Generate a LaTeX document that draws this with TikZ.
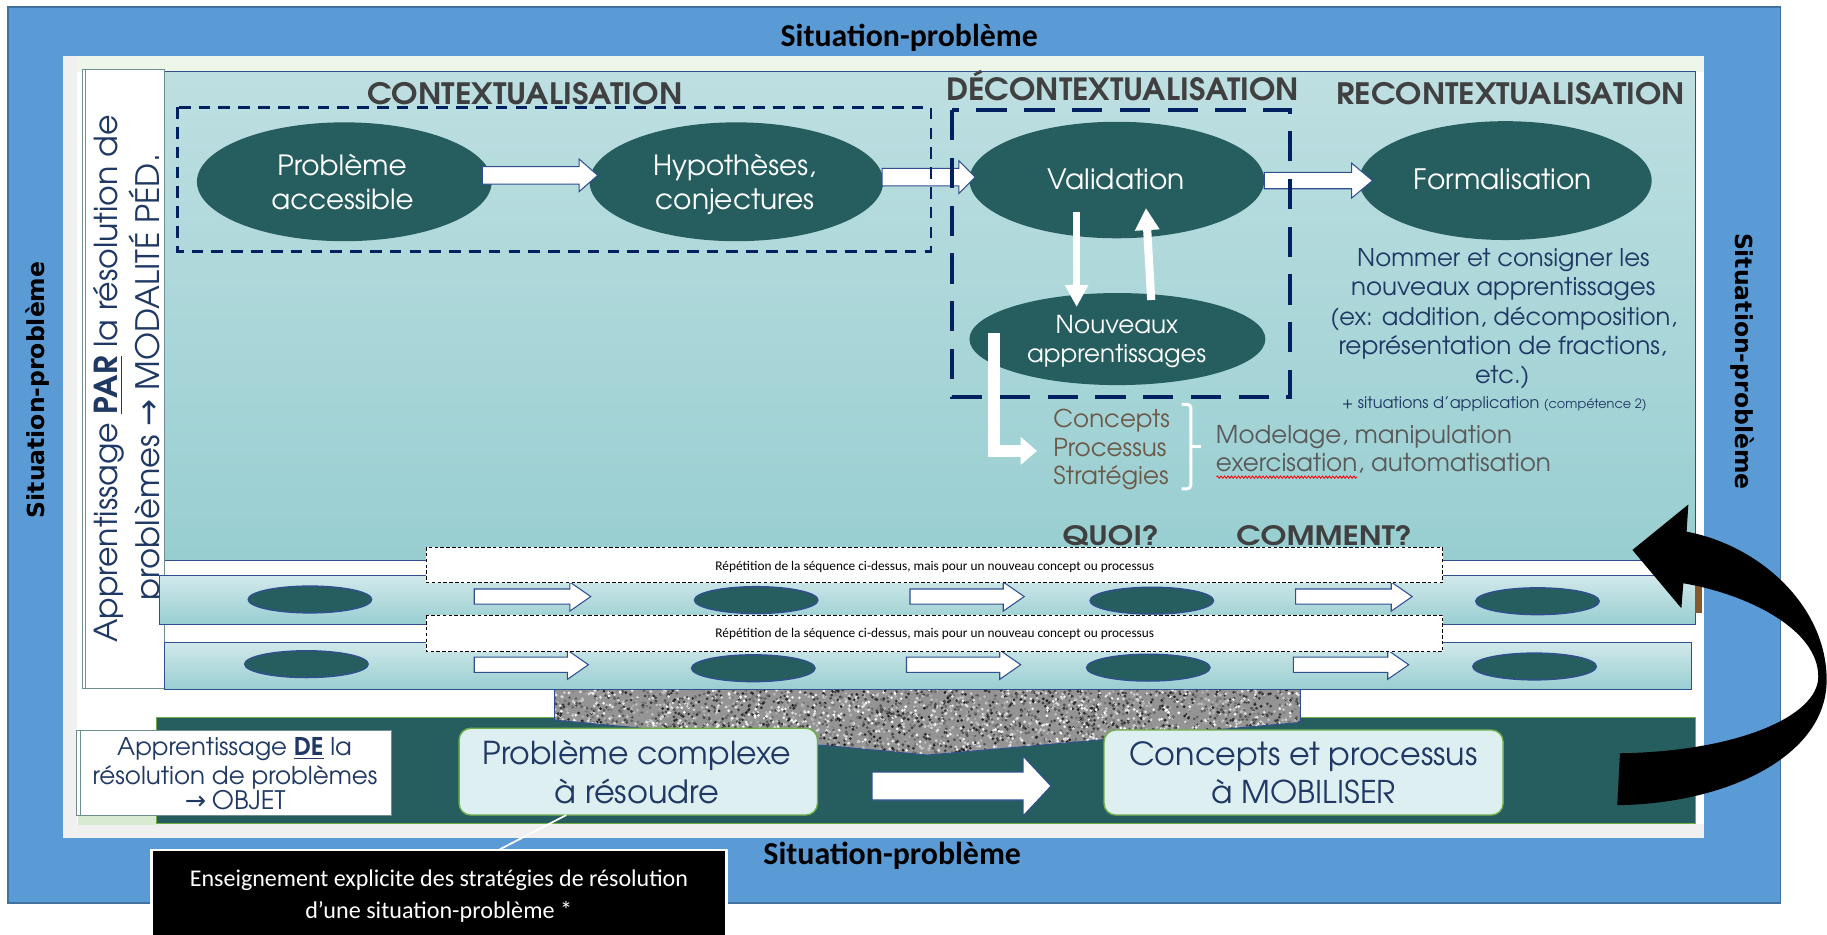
\documentclass[tikz,border=0pt]{standalone}
\usepackage{fontspec}
\usepackage{graphicx}
\setmainfont{Carlito}
\newfontfamily\cg{texgyreadventor}[Extension=.otf,UprightFont=*-regular,BoldFont=*-bold,ItalicFont=*-italic,BoldItalicFont=*-bolditalic]
\newfontfamily\dvs{DejaVu Sans}
\usetikzlibrary{arrows.meta,decorations.pathmorphing,shapes.geometric}
\definecolor{frameblue}{HTML}{5B9BD5}
\definecolor{frameedge}{HTML}{41719C}
\definecolor{tealdk}{HTML}{265E60}
\definecolor{panelTop}{HTML}{BEDFE1}
\definecolor{panelBot}{HTML}{98CED1}
\definecolor{navyln}{HTML}{2F4F8F}
\definecolor{navydash}{HTML}{002060}
\definecolor{navytxt}{HTML}{1F3864}
\definecolor{headgray}{HTML}{404040}
\definecolor{brownt}{HTML}{6B5A48}
\definecolor{graytxt}{HTML}{595959}
\definecolor{boxfill}{HTML}{DDEFF1}
\definecolor{boxedge}{HTML}{70AD47}
\definecolor{lightgreen}{HTML}{EEF6EA}
\definecolor{lightgray}{HTML}{F0F0F0}
\definecolor{labeledge}{HTML}{6F8F8F}
\definecolor{paleleaf}{HTML}{D9EAD3}
\newcommand\fw[2]{\resizebox{#1pt}{!}{#2}}
\newcommand\fwh[3]{\resizebox{#1pt}{#2pt}{#3}}
\newcommand\barrow[7][]{\filldraw[blockarr,#1] (#2,#4-#5) -- (#3-#7,#4-#5) -- (#3-#7,#4-#6) -- (#3,#4) -- (#3-#7,#4+#6) -- (#3-#7,#4+#5) -- (#2,#4+#5) -- cycle;}
\begin{document}
\begin{tikzpicture}[x=1pt,y=-1pt,
  txt/.style={inner sep=0pt,outer sep=0pt},
  wtxt/.style={txt,text=white},
  ntxt/.style={txt,text=navytxt},
  htxt/.style={txt,text=headgray},
  bigell/.style={ellipse,fill=tealdk,draw=none,inner sep=0pt},
  rowell/.style={ellipse,fill=tealdk,draw=navyln,line width=1.2pt,minimum width=106pt,minimum height=23pt,inner sep=0pt},
  blockarr/.style={fill=white,draw=navyln,line width=0.9pt,line join=miter},
  repbox/.style={fill=white,draw=black,line width=0.8pt,dash pattern=on 3pt off 2pt},
  rowband/.style={top color=panelTop!70!white,bottom color=panelBot},
  greenbox/.style={fill=boxfill,draw=boxedge,line width=1.2pt,rounded corners=10pt},
  whitearr/.style={draw=white,line join=miter}
]
\useasboundingbox (0,0) rectangle (1568,802);
\clip (0,0) rectangle (1568,802);
\fill[white] (0,0) rectangle (1568,802);
% blue frame
\filldraw[fill=frameblue,draw=frameedge,line width=1.5pt] (7,6) rectangle (1528,775);
% inner area
\fill[white] (54,48) rectangle (1462,719);
\fill[lightgreen] (66,48) rectangle (1462,61.5);
\fill[lightgray] (54,48) rectangle (66,719);
\fill[lightgray] (54,707) rectangle (1462,719);
% main panel
\shade[top color=panelTop,bottom color=panelBot] (141,61.5) rectangle (1455,481);
\draw[navyln,line width=0.8pt] (141,61.5) rectangle (1455,481);
% left vertical label box
\filldraw[fill=white,draw=labeledge,line width=0.8pt] (70.5,60) rectangle (141,591);
\draw[labeledge,line width=0.6pt] (73.5,60) -- (73.5,591);
\node[ntxt,rotate=90] (lab1) at (93,325.3) {\fw{453}{\cg Apprentissage \underline{\textbf{PAR}} la résolution de}};
\node[ntxt,rotate=90] (lab2) at (126,323.7) {\fw{383}{\cg problèmes {\dvs →} MODALITÉ PÉD.}};
% row bands
\shade[rowband] (137,494) rectangle (1455,535.7);
\draw[navyln,line width=0.8pt] (137,494) rectangle (1455,535.7);
\shade[rowband] (141,551) rectangle (1452,592);
\draw[navyln,line width=0.8pt] (141,551) rectangle (1452,592);
% row ellipses
\node[rowell] (r1a) at (266,514.5) {};
\node[rowell] (r1b) at (649,515) {};
\node[rowell] (r1c) at (988.5,515.5) {};
\node[rowell] (r1d) at (1319.5,516) {};
\node[rowell] (r2a) at (263,570) {};
\node[rowell] (r2b) at (646.5,573.5) {};
\node[rowell] (r2c) at (985.5,573) {};
\node[rowell] (r2d) at (1317,572) {};
% row arrows
\barrow{407}{507}{512}{6.5}{12.5}{18}
\barrow{781}{879}{512}{6.5}{12.5}{18}
\barrow{1112}{1212}{512}{6.5}{12.5}{18}
\barrow{407}{505}{570.5}{6.5}{12.5}{18}
\barrow{778}{876}{570.5}{6.5}{12.5}{18}
\barrow{1110}{1209}{570.5}{6.5}{12.5}{18}
% repetition boxes
\filldraw[repbox] (366,469.5) rectangle (1238,500);
\node[txt,anchor=base] (rep1) at (802.3,489.5) {\fw{376.5}{Répétition de la séquence ci-dessus, mais pour un nouveau concept ou processus}};
\filldraw[repbox] (366,528) rectangle (1238,559.5);
\node[txt,anchor=base] (rep2) at (802.3,547.5) {\fw{376.5}{Répétition de la séquence ci-dessus, mais pour un nouveau concept ou processus}};
% big ellipses
\node[bigell,minimum width=253pt,minimum height=102pt] (e1) at (295.5,156) {};
\node[bigell,minimum width=252pt,minimum height=102pt] (e2) at (632,156) {};
\node[bigell,minimum width=253pt,minimum height=100pt] (e3) at (958.5,154.5) {};
\node[bigell,minimum width=251pt,minimum height=102pt] (e4) at (1292,155) {};
\node[bigell,minimum width=254pt,minimum height=79pt] (e5) at (959,291) {};
% top block arrows
\barrow{414}{513}{150.5}{7.5}{14}{16}
\barrow{757}{837}{152}{7.5}{14}{14}
\barrow{1085}{1178}{155}{7}{15}{18}
% dashed boxes
\draw[navydash,line width=2.3pt,dash pattern=on 10pt off 7pt] (152.5,92) rectangle (799,216);
\draw[navydash,line width=3.5pt,dash pattern=on 26pt off 15pt] (817,94.5) rectangle (1107,340.5);
% headers
\node[htxt,anchor=base] (h1) at (450.5,90) {\fwh{271}{19}{\cg\bfseries CONTEXTUALISATION}};
\node[htxt,anchor=base] (h2) at (963.5,86) {\fwh{303}{26}{\cg\bfseries DÉCONTEXTUALISATION}};
\node[htxt,anchor=base] (h3) at (1296.5,90) {\fwh{299}{19}{\cg\bfseries RECONTEXTUALISATION}};
% ellipse texts
\node[wtxt,anchor=base] (t1a) at (293.5,151) {\fw{111}{\cg Problème}};
\node[wtxt,anchor=base] (t1b) at (294,179.5) {\fw{122}{\cg accessible}};
\node[wtxt,anchor=base] (t2a) at (630.3,151) {\fw{139.6}{\cg Hypothèses,}};
\node[wtxt,anchor=base] (t2b) at (630.8,179.5) {\fw{136.5}{\cg conjectures}};
\node[wtxt,anchor=base] (t3) at (958,163) {\fw{118}{\cg Validation}};
\node[wtxt,anchor=base] (t4) at (1289.8,163) {\fw{152.7}{\cg Formalisation}};
\node[wtxt,anchor=base] (t5a) at (958.5,286) {\fw{105}{\cg Nouveaux}};
\node[wtxt,anchor=base] (t5b) at (958.3,311.5) {\fw{153.6}{\cg apprentissages}};
% validation <-> nouveaux arrows
\coordinate (dA) at (924,182);
\coordinate (dB) at (924,263.5);
\coordinate (uA) at (988,257.5);
\coordinate (uB) at (983.5,178.5);
\draw[whitearr,line width=6.5pt,-{Triangle[width=19pt,length=19pt]}] (dA) -- (dB);
\draw[whitearr,line width=7pt,-{Triangle[width=20pt,length=19pt]}] (uA) -- (uB);
\coordinate (lA) at (853,286);
\coordinate (lB) at (890,387);
\draw[whitearr,line width=10pt,-{Triangle[width=23pt,length=14pt]}] (lA) |- (lB);
% formalisation description
\node[ntxt,anchor=base] (f1) at (1290.2,229) {\fw{251}{\cg Nommer et consigner les}};
\node[ntxt,anchor=base] (f2) at (1290.1,254) {\fw{261}{\cg nouveaux apprentissages}};
\node[ntxt,anchor=base] (f3) at (1290.6,279) {\fw{297.6}{\cg (ex: addition, décomposition,}};
\node[ntxt,anchor=base] (f4) at (1289.7,304) {\fw{281.6}{\cg représentation de fractions,}};
\node[ntxt,anchor=base] (f5) at (1289.4,329) {\fw{46.7}{\cg etc.)}};
\node[ntxt,anchor=base] (f6) at (1282.4,351) {\fw{261.5}{\cg + situations d’application {\footnotesize (compétence 2)}}};
% concepts / processus / strategies
\node[txt,text=brownt,anchor=base west] (c1) at (904,367) {\fw{100}{\cg Concepts}};
\node[txt,text=brownt,anchor=base west] (c2) at (904,391.5) {\fw{97}{\cg Processus}};
\node[txt,text=brownt,anchor=base west] (c3) at (904,416) {\fw{99}{\cg Stratégies}};
\draw[white,line width=2.5pt,rounded corners=3pt] (1014,347) -- (1022,347) -- (1022,419.5) -- (1014,419.5);
\draw[white,line width=2.5pt] (1022,383.4) -- (1031,383.4);
\node[txt,text=graytxt,anchor=base west] (m1) at (1043.6,381) {\fw{254}{\cg Modelage, manipulation}};
\node[txt,text=graytxt,anchor=base west] (m2) at (1043.6,405) {\fw{287.5}{\cg exercisation, automatisation}};
\draw[red,line width=0.7pt,decorate,decoration={snake,amplitude=1pt,segment length=3pt}] (1044,409.5) -- (1165,409.5);
% quoi / comment
\node[htxt,anchor=base] (q1) at (953.5,467.8) {\fwh{83}{17.2}{\cg\bfseries QUOI?}};
\node[htxt,anchor=base] (q2) at (1136.5,467.8) {\fwh{151}{17.2}{\cg\bfseries COMMENT?}};
% bottom dark band
\fill[paleleaf] (67,699.5) rectangle (134,708);
\filldraw[fill=tealdk,draw=boxedge,line width=0.8pt] (134,616) rectangle (1455,707);
% granite
\begin{scope}
\clip (476,592) -- (1116,592) -- (1116,620) -- (796,648) -- (476,618) -- cycle;
\fill[black!42] (476,592) rectangle (1116,648);
\pgfmathsetseed{7}
\foreach \i in {1,...,4200}{
  \pgfmathsetmacro\xx{476+640*rnd}
  \pgfmathsetmacro\yy{592+56*rnd}
  \pgfmathsetmacro\cc{int(90*rnd)}
  \fill[black!\cc] (\xx,\yy) circle (1.3pt);
}
\end{scope}
\draw[navyln,line width=0.8pt] (476,592) -- (476,618) -- (796,648) -- (1116,620) -- (1116,592);
% bottom-left label
\filldraw[fill=white,draw=labeledge,line width=0.8pt] (66,626.5) rectangle (336,699.5);
\draw[labeledge,line width=0.6pt] (69,626.5) -- (69,699.5);
\node[ntxt,anchor=base] (d1) at (201.3,648) {\fw{201.4}{\cg Apprentissage \underline{\textbf{DE}} la}};
\node[ntxt,anchor=base] (d2) at (201.7,673) {\fw{244.2}{\cg résolution de problèmes}};
\node[ntxt,anchor=base] (d3) at (201.8,695) {\fw{86.4}{{\dvs →} \cg OBJET}};
% boxes
\filldraw[greenbox] (394,625) rectangle (701.6,699.5);
\node[ntxt,anchor=base] (p1) at (546.5,656) {\fw{265}{\cg Problème complexe}};
\node[ntxt,anchor=base] (p2) at (546.5,689.5) {\fw{141}{\cg à résoudre}};
\filldraw[greenbox] (947.5,626.5) rectangle (1290,699.5);
\node[ntxt,anchor=base] (k1) at (1118.5,656.6) {\fw{299}{\cg Concepts et processus}};
\node[ntxt,anchor=base] (k2) at (1119,689.5) {\fw{158}{\cg à MOBILISER}};
\barrow{748.5}{902}{674.6}{12}{25.7}{24}
% callout
\coordinate (cl) at (423,732);
\draw[white,line width=1.5pt] (486,699.5) -- (cl);
\filldraw[fill=black,draw=white,line width=2pt] (130,729.5) rectangle (623.5,810);
\node[wtxt,anchor=base] (b1) at (376.7,761) {\fw{427.4}{Enseignement explicite des stratégies de résolution}};
\node[wtxt,anchor=base] (b2) at (376.5,788) {\fw{229}{d’une situation-problème *}};
% brown sliver and curved arrow
\fill[brown!70!black] (1455,500) rectangle (1461,526);
\fill[black] (1388,691) .. controls (1480,690) and (1567.7,650) .. (1567.7,583.6)
  .. controls (1567.7,520) and (1510,468) .. (1447.5,456.3)
  -- (1449,433) -- (1401,472) -- (1443,522) -- (1444.7,500.6)
  .. controls (1500,510) and (1560.5,540) .. (1560.5,580.7)
  .. controls (1560.5,615) and (1490,645) .. (1390.3,646.5) -- cycle;
% situation-probleme labels
\node[txt,anchor=base] (sp1) at (780.3,40) {\fw{220.6}{\bfseries Situation-problème}};
\node[txt,anchor=base] (sp2) at (765.7,742) {\fw{221}{\bfseries Situation-problème}};
\node[txt,rotate=90] (sp3) at (32,334.6) {\fw{220}{\dvs\bfseries Situation-problème}};
\node[txt,rotate=-90] (sp4) at (1495,310) {\fw{220}{\dvs\bfseries Situation-problème}};
\end{tikzpicture}
\end{document}
